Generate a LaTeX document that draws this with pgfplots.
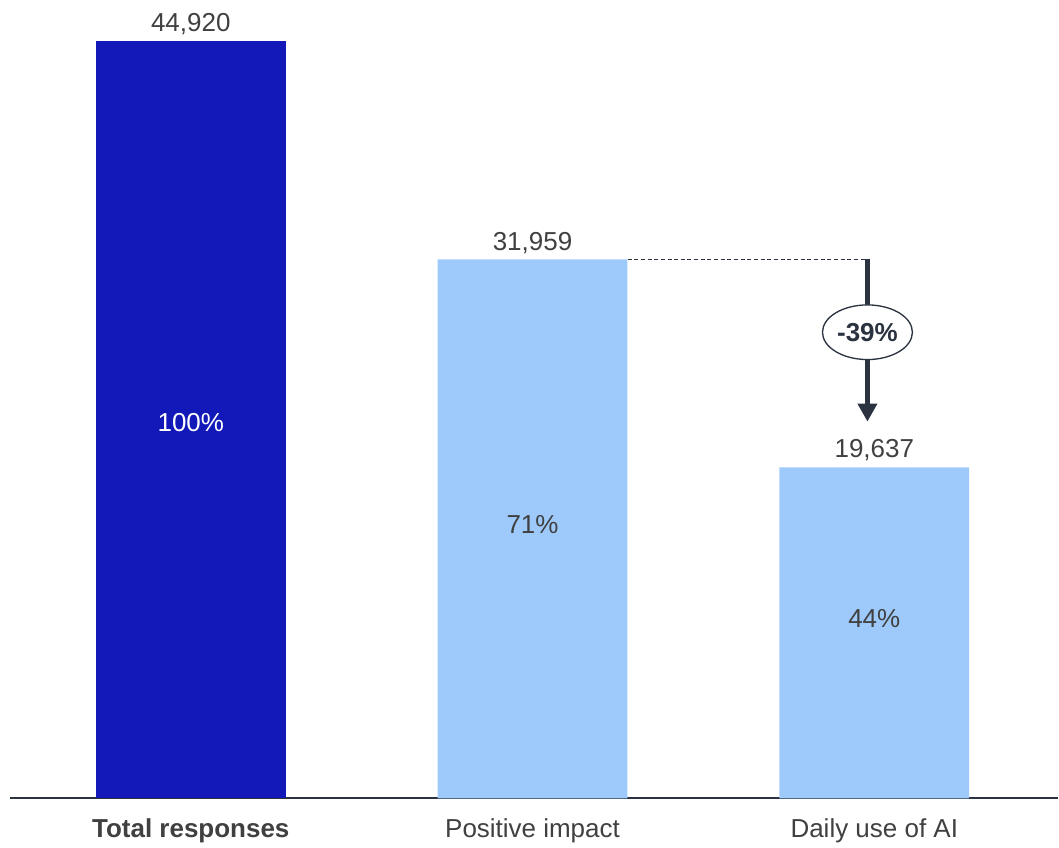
\documentclass[border=0pt]{standalone}
\usepackage{pgfplots}
\pgfplotsset{compat=1.18}
\usepackage{fontspec}
\setmainfont{Liberation Sans}
\usetikzlibrary{arrows.meta,shapes.geometric}
\definecolor{navybar}{HTML}{1219B8}
\definecolor{lightbar}{HTML}{9DCAFA}
\definecolor{ink}{HTML}{404040}
\definecolor{slate}{HTML}{2B3340}
\newcommand{\lblfont}{\fontsize{19.5}{23}\selectfont}

\begin{document}
\begin{tikzpicture}
% fixed canvas
\path (0pt,0pt) rectangle (794.25pt,631.5pt);
\begin{axis}[
  at={(7.5pt,32.25pt)}, anchor=south west,
  scale only axis, width=786.75pt, height=599.25pt,
  xmin=-0.529, xmax=2.538, ymin=0, ymax=47350,
  axis x line*=bottom, axis y line=none,
  x axis line style={slate, line width=1.3pt},
  xtick={0,1,2},
  xticklabels={\textbf{Total responses}, Positive impact, Daily use of AI},
  major tick length=0pt,
  xticklabel style={font=\lblfont, text=ink, yshift=-12pt},
  ytick=\empty,
  clip=false,
  nodes near coords,
  /pgf/number format/.cd, 1000 sep={,}, assume math mode=true,
  /pgfplots/.cd,
  every node near coord/.append style={font=\lblfont, text=ink, yshift=1pt},
]
\addplot[ybar, bar shift=0pt, bar width=142.5pt, fill=navybar, draw=none] coordinates {(0,44920)};
\addplot[ybar, bar shift=0pt, bar width=142.5pt, fill=lightbar, draw=none] coordinates {(1,31959) (2,19637)};

% share of total inside each bar
\node[font=\lblfont, text=white] at (axis cs:0,22282) {100\%};
\node[font=\lblfont, text=ink] at (axis cs:1,16237) {71\%};
\node[font=\lblfont, text=ink] at (axis cs:2,10667) {44\%};

% drop from positive impact to daily use
\draw[slate, line width=0.7pt, dash pattern=on 3pt off 2pt] (axis cs:1.278,31959) -- (axis cs:1.98,31959);
\draw[slate, line width=3.6pt, -{Triangle[length=13.5pt,width=14pt]}] (axis cs:1.98,31959) -- (axis cs:1.98,22342);
\node[ellipse, draw=slate, line width=1pt, fill=white, minimum width=67.5pt, minimum height=41pt, inner sep=0pt,
      font=\bfseries\lblfont, text=slate] at (axis cs:1.98,27645) {-39\%};
\end{axis}
\end{tikzpicture}
\end{document}
